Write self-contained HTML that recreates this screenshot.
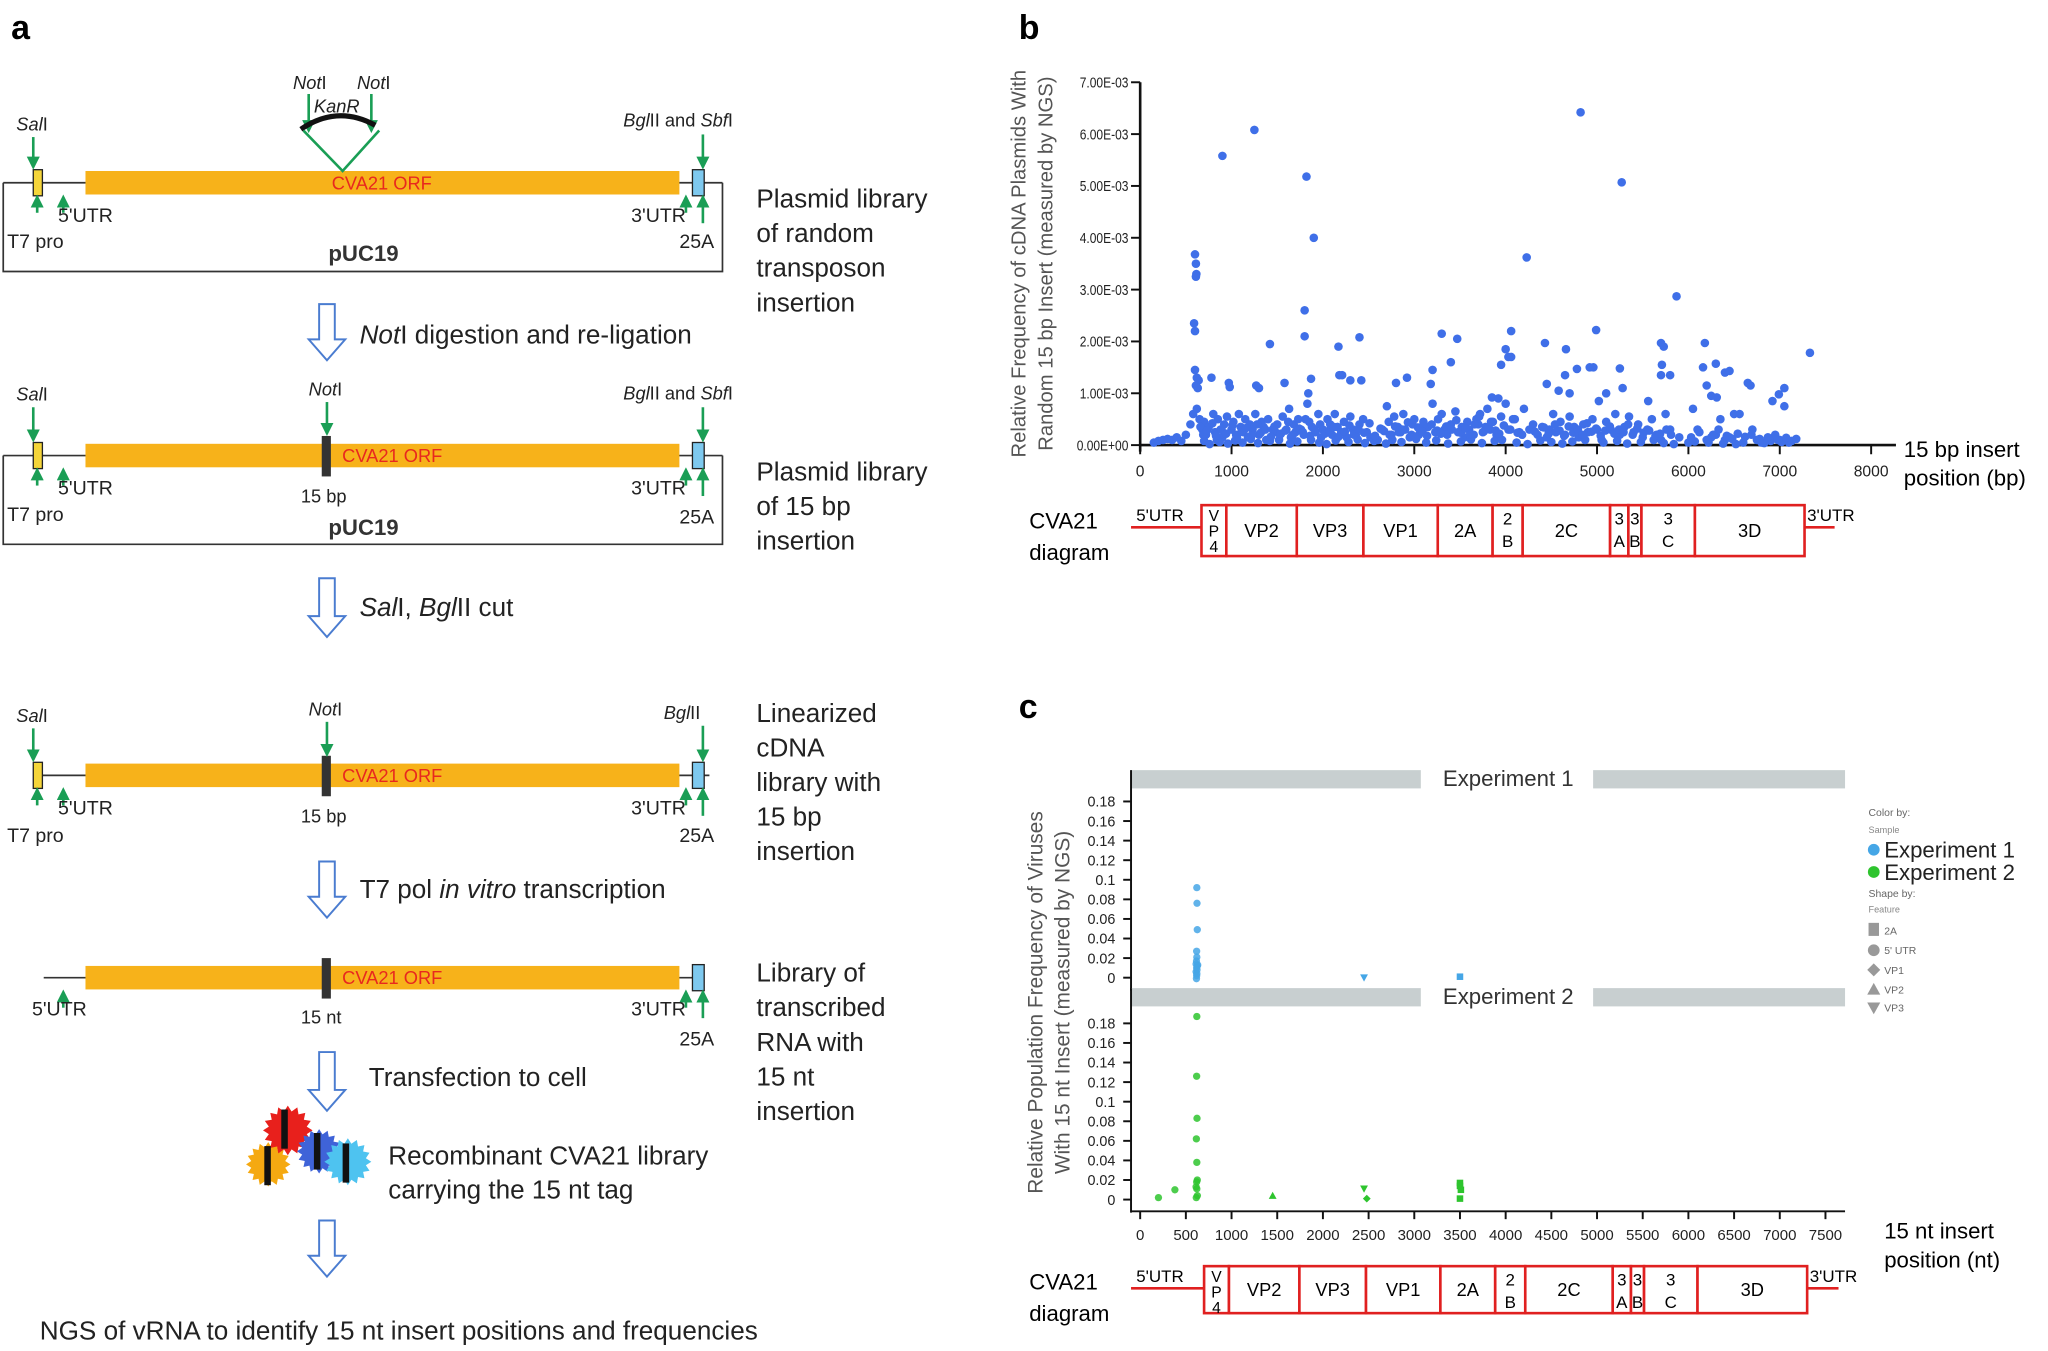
<!DOCTYPE html>
<html><head><meta charset="utf-8"><style>
html,body{margin:0;padding:0;background:#fff}
svg{display:block}
text{font-family:"Liberation Sans",sans-serif}
</style></head><body>
<svg id="fig" width="2048" height="1351" viewBox="0 0 1568 1035" xmlns="http://www.w3.org/2000/svg">
<defs>
<marker id="gh" viewBox="0 0 10 10" refX="8" refY="5" markerWidth="5" markerHeight="5" orient="auto"><path d="M0,0L10,5L0,10z" fill="#1a9e55"/></marker>
</defs>
<g id="panelA"></g>
<g id="panelB"></g>
<g id="panelC"></g>
</svg>
<script>
// ---------- Panel b data ----------
const bX = [600,610,615,610,590,600,600,620,640,610,630,900,1250,1820,1900,1800,1800,1420,2170,2400,3300,3470,3400,3200,4230,4060,4000,4030,4060,3950,4820,5270,4990,4430,4660,4780,4920,4960,5250,5280,5870,5700,5730,5710,5700,5800,6180,6300,6160,6400,6450,6650,6680,7330,7050,6990,6920,7050,780,970,980,1270,1300,1580,1840,1870,2210,2180,2300,2420,2800,2920,3180,3850,3920,4450,4580,4650,4700,5020,5100,5560,6250,6310,6200,6560,6280,
150,200,250,300,350,400,450,500,550,580,620,650,680,700,720,750,800,820,850,880,900,920,950,1000,1020,1050,1080,1100,1130,1150,1180,1200,1230,1260,1300,1330,1350,1380,1400,1450,1480,1500,1530,1560,1600,1630,1650,1680,1700,1730,1760,1790,1830,1850,1880,1920,1950,1980,2000,2050,2080,2100,2130,2160,2200,2230,2260,2300,2330,2360,2400,2440,2480,2520,2600,2650,2700,2720,2750,2780,2820,2850,2880,2900,2950,2980,3000,3050,3080,3100,3150,3200,3230,3260,3300,3330,3360,3400,3450,3480,3520,3550,3580,3600,3650,3680,3700,3720,3750,3780,3800,3830,3860,3900,3950,4000,4050,4100,4150,4200,4300,4350,4400,4450,4480,4520,4550,4600,4650,4700,4750,4800,4850,4900,4950,5000,5050,5100,5150,5200,5250,5300,5350,5400,5450,5500,5550,5600,5650,5700,5750,5800,5900,6000,6050,6100,6200,6250,6300,6350,6400,6450,6500,6600,6700,6750,6800,6900,6950,7000,7100,7180,
700,760,840,870,960,1040,1120,1210,1290,1420,1520,1640,1720,1870,1960,2040,2140,2280,2380,2460,2560,2690,2760,2860,3020,3130,3240,3370,3510,3620,3740,3880,3960,4120,4240,4380,4500,4620,4730,4870,5070,5220,5330,5480,5620,5730,5840,6070,6220,6380,6520,6830,7020,
660,690,730,790,830,890,940,1010,1060,1110,1160,1220,1280,1320,1370,1430,1470,1540,1590,1620,1670,1740,1780,1810,1860,1910,1970,2020,2070,2120,2170,2240,2290,2340,2390,2450,2510,2570,2630,2670,2730,2790,2830,2870,2930,2970,3040,3090,3140,3190,3250,3290,3350,3410,3460,3510,3560,3610,3660,3710,3760,3810,3840,3890,3930,3980,4030,4080,4130,4180,4260,4320,4420,4470,4540,4590,4640,4690,4740,4790,4840,4890,4940,4990,5040,5090,5140,5190,5240,5290,5340,5390,5440,5510,5570,5640,5690,5760,5810,6030,6120,6270,6330,6420,6480,6540,6620,6690,6780,6870,6980,7070,7130];
const bY = [3.68,3.5,3.3,3.25,2.35,2.2,1.45,1.3,1.25,1.15,1.1,5.58,6.08,5.18,4.0,2.6,2.1,1.95,1.9,2.08,2.15,2.05,1.6,1.45,3.62,2.2,1.85,1.7,1.7,1.55,6.42,5.07,2.22,1.97,1.85,1.47,1.5,1.5,1.48,1.1,2.87,1.97,1.9,1.55,1.35,1.35,1.97,1.57,1.5,1.4,1.43,1.2,1.15,1.78,1.1,0.98,0.85,0.75,1.3,1.2,1.12,1.15,1.1,1.2,1.0,1.28,1.35,1.35,1.25,1.25,1.2,1.3,1.18,0.92,0.9,1.18,1.05,1.35,1.0,0.85,1.0,0.85,0.95,0.92,1.15,0.6,0.2,
0.05,0.08,0.1,0.12,0.1,0.15,0.08,0.2,0.4,0.6,0.7,0.5,0.3,0.45,0.2,0.35,0.6,0.25,0.5,0.3,0.15,0.4,0.55,0.3,0.45,0.2,0.6,0.35,0.25,0.5,0.15,0.4,0.3,0.6,0.2,0.45,0.35,0.1,0.5,0.3,0.25,0.4,0.2,0.55,0.3,0.7,0.15,0.4,0.25,0.5,0.3,0.2,0.8,0.45,0.35,0.25,0.6,0.15,0.3,0.5,0.4,0.2,0.6,0.35,0.25,0.45,0.15,0.55,0.3,0.2,0.4,0.5,0.25,0.15,0.1,0.3,0.75,0.45,0.2,0.55,0.35,0.25,0.6,0.3,0.15,0.4,0.5,0.2,0.3,0.45,0.35,0.8,0.25,0.5,0.6,0.3,0.2,0.4,0.65,0.25,0.35,0.15,0.45,0.3,0.2,0.5,0.4,0.6,0.25,0.35,0.7,0.3,0.45,0.2,0.55,0.8,0.3,0.5,0.25,0.7,0.4,0.2,0.35,0.15,0.3,0.6,0.25,0.45,0.2,0.55,0.35,0.15,0.4,0.25,0.5,0.3,0.1,0.45,0.3,0.6,0.2,0.35,0.55,0.25,0.4,0.15,0.3,0.5,0.2,0.1,0.6,0.3,0.15,0.05,0.7,0.3,0.1,0.15,0.2,0.5,0.1,0.15,0.6,0.05,0.3,0.1,0.05,0.08,0.2,0.1,
0.05,0.12,0.08,0.02,0.1,0.06,0.03,0.09,0.05,0.12,0.04,0.08,0.1,0.03,0.07,0.1,0.05,0.02,0.09,0.06,0.11,0.04,0.08,0.03,0.1,0.06,0.12,0.05,0.09,0.03,0.07,0.11,0.04,0.08,0.1,0.05,0.02,0.09,0.06,0.03,0.07,0.1,0.05,0.08,0.03,0.06,0.1,0.04,0.02,0.07,0.05,0.03,0.02,0.04,0.06,
0.35,0.2,0.28,0.42,0.18,0.3,0.22,0.38,0.15,0.26,0.33,0.19,0.4,0.24,0.3,0.16,0.36,0.22,0.28,0.45,0.2,0.32,0.25,0.5,0.18,0.3,0.4,0.22,0.28,0.35,0.16,0.26,0.38,0.2,0.3,0.24,0.42,0.18,0.32,0.27,0.2,0.36,0.25,0.3,0.44,0.2,0.34,0.26,0.18,0.4,0.28,0.22,0.36,0.3,0.48,0.24,0.32,0.2,0.4,0.55,0.26,0.34,0.45,0.28,0.22,0.38,0.3,0.5,0.24,0.2,0.3,0.26,0.34,0.22,0.4,0.28,0.18,0.36,0.24,0.3,0.2,0.42,0.26,0.32,0.18,0.28,0.36,0.22,0.3,0.25,0.4,0.2,0.32,0.24,0.28,0.18,0.22,0.3,0.2,0.15,0.25,0.2,0.3,0.18,0.12,0.22,0.16,0.2,0.12,0.15,0.1,0.14,0.08];
const bYTicks = ["0.00E+00","1.00E-03","2.00E-03","3.00E-03","4.00E-03","5.00E-03","6.00E-03","7.00E-03"];
const bXTicks = [0,1000,2000,3000,4000,5000,6000,7000,8000];
const genes = ["VP4","VP2","VP3","VP1","2A","2B","2C","3A","3B","3C","3D"];
const geneLabels = [["V","P","4"],["VP2"],["VP3"],["VP1"],["2A"],["2","B"],["2C"],["3","A"],["3","B"],["3","C"],["3D"]];
const geneStart = [671,943,1714,2443,3257,3857,4186,5143,5343,5486,6071];
const geneEnd   = [943,1714,2443,3257,3857,4186,5143,5343,5486,6071,7271];

// ---------- Panel c data ----------
const e1X = [620,622,625,618,620,616,630,612,624,618,622,612,620,618,616,2450,3500];
const e1Y = [0.092,0.076,0.049,0.027,0.021,0.017,0.013,0.014,0.012,0.010,0.008,0.006,0.004,0.002,-0.001,0,0.001];
const e1S = ["c","c","c","c","c","c","c","c","c","c","c","c","c","c","c","v","s"];
const e2X = [620,618,622,615,620,625,618,612,620,626,614,200,380,1450,2450,2480,3500,3500,3510,3500];
const e2Y = [0.187,0.126,0.083,0.062,0.038,0.020,0.018,0.013,0.011,0.004,0.002,0.002,0.010,0.004,0.011,0.001,0.017,0.014,0.010,0.001];
const e2S = ["c","c","c","c","c","c","c","c","c","c","c","c","c","t","v","d","s","s","s","s"];
const cYTicks = [0,0.02,0.04,0.06,0.08,0.1,0.12,0.14,0.16,0.18];
const cXTicks = [0,500,1000,1500,2000,2500,3000,3500,4000,4500,5000,5500,6000,6500,7000,7500];

const NS="http://www.w3.org/2000/svg";
function mk(parent,tag,attrs,txt){const e=document.createElementNS(NS,tag);for(const k in attrs)e.setAttribute(k,attrs[k]);if(txt!==undefined)e.textContent=txt;parent.appendChild(e);return e;}

// ---------- Panel b ----------
const B=document.getElementById('panelB');
const bx=v=>873+v*0.07, by=v=>341-v*39.71;
let t=mk(B,'text',{x:780,y:30,'font-size':26,'font-weight':'bold'},'b');


let ax=mk(B,'line',{x1:873,y1:63,x2:873,y2:346,stroke:'#111','stroke-width':2});


ax=mk(B,'line',{x1:873,y1:341,x2:1452,y2:341,stroke:'#111','stroke-width':2});


bYTicks.forEach((lab,i)=>{
  mk(B,'line',{x1:866,y1:by(i),x2:873,y2:by(i),stroke:'#111','stroke-width':1.5});
  const e=mk(B,'text',{x:864/0.8,y:by(i)+4,'font-size':11.5,'text-anchor':'end',fill:'#222',transform:'scale(0.8,1)'},lab);
  
  
});
bXTicks.forEach(v=>{
  mk(B,'line',{x1:bx(v),y1:341,x2:bx(v),y2:348,stroke:'#111','stroke-width':1.5});
  const e=mk(B,'text',{x:bx(v),y:365,'font-size':12,'text-anchor':'middle',fill:'#222'},String(v));
  
  
});
t=mk(B,'text',{x:1458,y:350,'font-size':17},'15 bp insert');


mk(B,'text',{x:1458,y:372,'font-size':17},'position (bp)');
t=mk(B,'text',{'font-size':15.5,fill:'#555','text-anchor':'middle',transform:'translate(785,202) rotate(-90)'},'Relative Frequency of cDNA Plasmids With');


mk(B,'text',{'font-size':15.5,fill:'#555','text-anchor':'middle',transform:'translate(806,202) rotate(-90)'},'Random 15 bp Insert  (measured by NGS)');
const nB=Math.min(bX.length,bY.length);
for(let i=0;i<nB;i++){
  const c=mk(B,'circle',{cx:bx(bX[i]),cy:by(bY[i]),r:3.3,fill:'#3f6fe8'});
  
  
}

function diagram(G,y0,h,gx,x0,x1,lineY){
  let e=mk(G,'text',{x:788,y:y0+18,'font-size':17},'CVA21');
  
  
  mk(G,'text',{x:788,y:y0+42,'font-size':17},'diagram');
  mk(G,'line',{x1:x0,y1:lineY,x2:gx(geneStart[0]),y2:lineY,stroke:'#e02020','stroke-width':2});
  mk(G,'line',{x1:gx(geneEnd[10]),y1:lineY,x2:x1,y2:lineY,stroke:'#e02020','stroke-width':2});
  mk(G,'text',{x:x0+4,y:y0+12,'font-size':13},"5'UTR");
  mk(G,'text',{x:gx(geneEnd[10])+2,y:y0+12,'font-size':13},"3'UTR");
  genes.forEach((g,i)=>{
    const xa=gx(geneStart[i]),xb=gx(geneEnd[i]);
    const r=mk(G,'rect',{x:xa,y:y0,width:xb-xa,height:h,fill:'#fff',stroke:'#e02020','stroke-width':2});
    
    
    const L=geneLabels[i];const cx=(xa+xb)/2;
    if(L.length===1) mk(G,'text',{x:cx,y:y0+h/2+5,'font-size':14,'text-anchor':'middle'},L[0]);
    else L.forEach((s,j)=>mk(G,'text',{x:cx,y:y0+(L.length===3?12:15)+j*(L.length===3?12:17),'font-size':L.length===3?12:13,'text-anchor':'middle'},s));
  });
}
diagram(B,387,39,bx,866,1405,404);

// ---------- Panel c ----------
const C=document.getElementById('panelC');
const cx=v=>873+v*0.07;
t=mk(C,'text',{x:780,y:550,'font-size':26,'font-weight':'bold'},'c');


function facet(y0,title,ySc,xs,ys,ss,col){
  const s1=mk(C,'rect',{x:866,y:y0,width:222,height:14,fill:'#c8cfd0'});
  
  
  mk(C,'rect',{x:1220,y:y0,width:193,height:14,fill:'#c8cfd0'});
  const tt=mk(C,'text',{x:1155,y:y0+12,'font-size':17,'text-anchor':'middle',fill:'#333'},title);
  
  
  mk(C,'line',{x1:866,y1:y0,x2:866,y2:ySc(0)+10,stroke:'#111','stroke-width':1.5});
  cYTicks.forEach(v=>{
    mk(C,'line',{x1:860,y1:ySc(v),x2:866,y2:ySc(v),stroke:'#111','stroke-width':1.5});
    const e=mk(C,'text',{x:854,y:ySc(v)+4,'font-size':11,'text-anchor':'end',fill:'#222'},String(v));
    
    
  });
  xs.forEach((v,i)=>{
    const px=cx(v),py=ySc(ys[i]),s=ss[i];let m;
    if(s==='c') m=mk(C,'circle',{cx:px,cy:py,r:2.8,fill:col,'fill-opacity':0.85});
    else if(s==='s') m=mk(C,'rect',{x:px-2.5,y:py-2.5,width:5,height:5,fill:col});
    else if(s==='t') m=mk(C,'path',{d:`M${px-3},${py+2.5}L${px+3},${py+2.5}L${px},${py-3}z`,fill:col});
    else if(s==='v') m=mk(C,'path',{d:`M${px-3},${py-2.5}L${px+3},${py-2.5}L${px},${py+3}z`,fill:col});
    else m=mk(C,'path',{d:`M${px},${py-3}L${px+3},${py}L${px},${py+3}L${px-3},${py}z`,fill:col});
    
    
  });
}
facet(590,'Experiment 1',v=>749-v*750,e1X,e1Y,e1S,'#45a6e6');
facet(757,'Experiment 2',v=>919-v*750,e2X,e2Y,e2S,'#2ec42e');
ax=mk(C,'line',{x1:866,y1:928,x2:1413,y2:928,stroke:'#111','stroke-width':1.5});


cXTicks.forEach(v=>{
  mk(C,'line',{x1:cx(v),y1:928,x2:cx(v),y2:934,stroke:'#111','stroke-width':1.5});
  const e=mk(C,'text',{x:cx(v),y:950,'font-size':11.5,'text-anchor':'middle',fill:'#222'},String(v));
  
  
});
t=mk(C,'text',{x:1443,y:949,'font-size':17},'15 nt insert');


mk(C,'text',{x:1443,y:971,'font-size':17},'position (nt)');
t=mk(C,'text',{'font-size':16,fill:'#555','text-anchor':'middle',transform:'translate(798,768) rotate(-90)'},'Relative Population Frequency of Viruses');


mk(C,'text',{'font-size':16,fill:'#555','text-anchor':'middle',transform:'translate(819,768) rotate(-90)'},'With 15 nt Insert (measured by NGS)');
// legend
const Lg=mk(C,'g',{});


mk(Lg,'text',{x:1431,y:625,'font-size':8,fill:'#666'},'Color by:');
mk(Lg,'text',{x:1431,y:638,'font-size':7,fill:'#888'},'Sample');
let le=mk(Lg,'circle',{cx:1435,cy:651,r:4.5,fill:'#45a6e6'});


mk(Lg,'text',{x:1443,y:657,'font-size':17,fill:'#222'},'Experiment 1');
le=mk(Lg,'circle',{cx:1435,cy:668,r:4.5,fill:'#2ec42e'});


mk(Lg,'text',{x:1443,y:674,'font-size':17,fill:'#222'},'Experiment 2');
mk(Lg,'text',{x:1431,y:687,'font-size':8,fill:'#666'},'Shape by:');
mk(Lg,'text',{x:1431,y:699,'font-size':7,fill:'#888'},'Feature');
const g='#999';
mk(Lg,'rect',{x:1431,y:707,width:8,height:10,fill:g});mk(Lg,'text',{x:1443,y:716,'font-size':8,fill:'#666'},'2A');
mk(Lg,'circle',{cx:1435,cy:728,r:4.5,fill:g});mk(Lg,'text',{x:1443,y:731,'font-size':8,fill:'#666'},"5' UTR");
mk(Lg,'path',{d:'M1435,738L1440,743L1435,748L1430,743z',fill:g});mk(Lg,'text',{x:1443,y:746,'font-size':8,fill:'#666'},'VP1');
mk(Lg,'path',{d:'M1430,762L1440,762L1435,753z',fill:g});mk(Lg,'text',{x:1443,y:761,'font-size':8,fill:'#666'},'VP2');
mk(Lg,'path',{d:'M1430,768L1440,768L1435,777z',fill:g});mk(Lg,'text',{x:1443,y:775,'font-size':8,fill:'#666'},'VP3');
diagram(C,970,36,v=>cx(v)+2,866,1408,987);

// ---------- Panel a ----------
const A=document.getElementById('panelA');
t=mk(A,'text',{x:8,y:30,'font-size':26,'font-weight':'bold'},'a');


const GR='#1a9e55';
function garrow(x,y1,y2){mk(A,'line',{x1:x,y1:y1,x2:x,y2:y2,stroke:GR,'stroke-width':2,'marker-end':'url(#gh)'});}
function lbl(x,y,s,sz,extra){return mk(A,'text',Object.assign({x:x,y:y,'font-size':sz||15,fill:'#222'},extra||{}),s);}
function ital(x,y,a,b,sz){const e=mk(A,'text',{x:x,y:y,'font-size':sz||14,fill:'#222'});mk(e,'tspan',{'font-style':'italic'},a);mk(e,'tspan',{},b);return e;}
function construct(y,opts){
  const g=mk(A,'g',{});
  
  
  if(opts.box){mk(g,'path',{d:`M2,${y+9}L2,${y+77}L553,${y+77}L553,${y+9}`,fill:'none',stroke:'#333','stroke-width':1.3});}
  mk(g,'line',{x1:opts.lx0,y1:y+9,x2:opts.lx1,y2:y+9,stroke:'#333','stroke-width':1.3});
  mk(g,'rect',{x:65,y:y,width:455,height:18,fill:'#f7b21a'});
  if(opts.t7) mk(g,'rect',{x:25,y:y-1,width:7,height:20,fill:'#f5d53a',stroke:'#222','stroke-width':1});
  mk(g,'rect',{x:530,y:y-1,width:9,height:20,fill:'#7ec9ef',stroke:'#222','stroke-width':1});
  if(opts.ins) mk(g,'rect',{x:246,y:y-6,width:7,height:31,fill:'#333'});
  mk(g,'text',{x:opts.ins?300:292,y:y+14,'font-size':14,fill:'#e8281e','text-anchor':'middle'},'CVA21 ORF');
  garrow(525,y+32,y+20);garrow(538,y+40,y+20);
  if(opts.t7){garrow(28,y+32,y+20);garrow(48,y+32,y+20);}
  else garrow(48,y+32,y+20);
}
// construct 1
construct(131,{box:true,t7:true,lx0:2,lx1:553});
ital(12,100,'Sal','I');garrow(25,105,128);
ital(224,68,'Not','I');ital(273,68,'Not','I');garrow(236,72,100);garrow(284,72,100);
mk(A,'path',{d:'M230,99Q258,80 287,96',fill:'none',stroke:'#111','stroke-width':4});
mk(A,'path',{d:'M232,100L262,131L290,100',fill:'none',stroke:GR,'stroke-width':2});
lbl(240,86,'KanR',14,{'font-style':'italic'});
mk(A,'text',{x:477,y:97,'font-size':14,fill:'#222'}).innerHTML='<tspan font-style="italic">Bgl</tspan>II and <tspan font-style="italic">Sbf</tspan>I';
garrow(538,103,128);
lbl(44,170,"5'UTR");lbl(5,190,'T7 pro');lbl(483,170,"3'UTR");lbl(520,190,'25A');
lbl(278,200,'pUC19',17,{'font-weight':'bold','text-anchor':'middle',fill:'#333'});
['Plasmid library','of random','transposon','insertion'].forEach((s,i)=>lbl(579,159+i*26.5,s,20));
function harrow(y1,y2){const x=250;const a=mk(A,'path',{d:`M${x-6},${y1}L${x+6},${y1}L${x+6},${y2-16}L${x+14},${y2-16}L${x},${y2}L${x-14},${y2-16}L${x-6},${y2-16}z`,fill:'#fff',stroke:'#4a7cd0','stroke-width':1.5});}
harrow(233,276);
mk(A,'text',{x:275,y:263,'font-size':20,fill:'#222'}).innerHTML='<tspan font-style="italic">Not</tspan>I digestion and re-ligation';
// construct 2
construct(340,{box:true,t7:true,lx0:2,lx1:553,ins:true});
ital(12,307,'Sal','I');garrow(25,312,337);
ital(236,303,'Not','I');garrow(250,308,332);
mk(A,'text',{x:477,y:306,'font-size':14,fill:'#222'}).innerHTML='<tspan font-style="italic">Bgl</tspan>II and <tspan font-style="italic">Sbf</tspan>I';
garrow(538,312,337);
lbl(44,379,"5'UTR");lbl(5,399,'T7 pro');lbl(230,385,'15 bp',14);lbl(483,379,"3'UTR");lbl(520,401,'25A');
lbl(278,410,'pUC19',17,{'font-weight':'bold','text-anchor':'middle',fill:'#333'});
['Plasmid library','of 15 bp','insertion'].forEach((s,i)=>lbl(579,368+i*26.5,s,20));
harrow(443,488);
mk(A,'text',{x:275,y:472,'font-size':20,fill:'#222'}).innerHTML='<tspan font-style="italic">Sal</tspan>I, <tspan font-style="italic">Bgl</tspan>II cut';
// construct 3
construct(585,{box:false,t7:true,lx0:28,lx1:543,ins:true});
ital(12,553,'Sal','I');garrow(25,558,582);
ital(236,548,'Not','I');garrow(250,553,578);
ital(508,551,'Bgl','II');garrow(538,556,582);
lbl(44,624,"5'UTR");lbl(5,645,'T7 pro');lbl(230,630,'15 bp',14);lbl(483,624,"3'UTR");lbl(520,645,'25A');
['Linearized','cDNA','library with','15 bp','insertion'].forEach((s,i)=>lbl(579,553+i*26.5,s,20));
harrow(660,703);
mk(A,'text',{x:275,y:688,'font-size':20,fill:'#222'}).innerHTML='T7 pol <tspan font-style="italic">in vitro</tspan> transcription';
// construct 4
construct(740,{box:false,t7:false,lx0:33,lx1:539,ins:true});
lbl(24,778,"5'UTR");lbl(230,784,'15 nt',14);lbl(483,778,"3'UTR");lbl(520,801,'25A');
['Library of','transcribed','RNA with','15 nt','insertion'].forEach((s,i)=>lbl(579,752+i*26.5,s,20));
harrow(806,851);
lbl(282,832,'Transfection to cell',20);
function burst(cx0,cy0,r,col){let d='';for(let i=0;i<32;i++){const rr=i%2?r*0.78:r;const a=i*Math.PI/16;d+=(i?'L':'M')+(cx0+rr*Math.cos(a)).toFixed(1)+','+(cy0+rr*Math.sin(a)).toFixed(1);}const p=mk(A,'path',{d:d+'z',fill:col});}
burst(205,892,17,'#f5a911');burst(220,866,19,'#e8201c');burst(244,882,17,'#3f63d8');burst(266,890,18,'#4ec3f0');
mk(A,'rect',{x:202,y:878,width:5,height:30,fill:'#111'});mk(A,'rect',{x:215,y:850,width:5,height:30,fill:'#111'});
mk(A,'rect',{x:240,y:868,width:5,height:28,fill:'#111'});mk(A,'rect',{x:262,y:876,width:5,height:30,fill:'#111'});
lbl(297,892,'Recombinant CVA21 library',20);lbl(297,918,'carrying the 15 nt tag',20);
harrow(935,978);
lbl(30,1026,'NGS of vRNA to identify 15 nt insert positions and frequencies',20);
</script>
</body></html>
